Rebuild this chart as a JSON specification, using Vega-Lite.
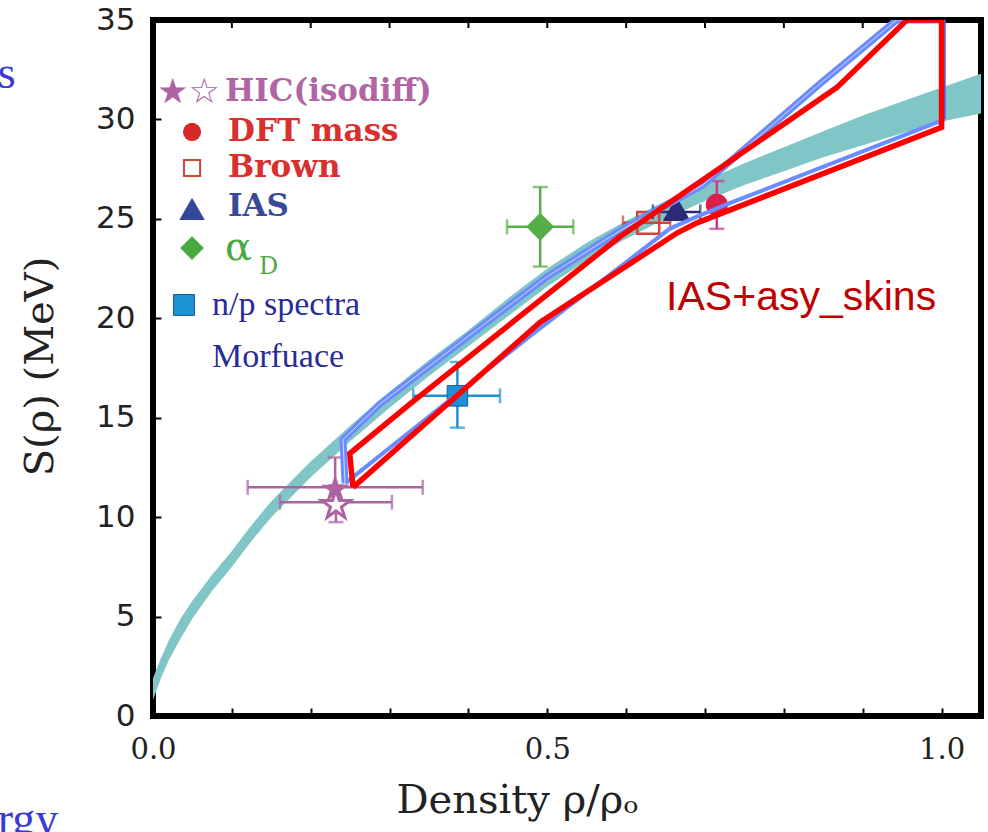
{
  "$schema": "https://vega.github.io/schema/vega-lite/v6.json",
  "width": 828,
  "height": 696,
  "autosize": {"type": "none"},
  "padding": {"left": 153, "top": 20, "right": 7, "bottom": 116},
  "background": "white",
  "config": {
    "view": {"stroke": "black", "strokeWidth": 6},
    "axis": {"grid": false, "domain": false, "tickColor": "black", "tickWidth": 2, "labelOverlap": false, "labelFlush": false, "labelBound": false},
    "axisY": {"titleFont": "DejaVu Serif", "titleFontSize": 40, "titleFontWeight": "normal", "titleColor": "#222"},
    "axisX": {"titleFont": "DejaVu Serif", "titleFontSize": 40, "titleFontWeight": "normal", "titleColor": "#222"}
  },
  "resolve": {"scale": {"color": "independent"}},
  "datasets": {
    "band": [
      {"x": 0.0, "y": 0.8, "y2": 1.9},
      {"x": 0.01, "y": 1.9, "y2": 2.9},
      {"x": 0.02, "y": 2.8, "y2": 3.8},
      {"x": 0.035, "y": 3.9, "y2": 4.9},
      {"x": 0.05, "y": 4.9, "y2": 5.8},
      {"x": 0.075, "y": 6.3, "y2": 7.1},
      {"x": 0.1, "y": 7.5, "y2": 8.3},
      {"x": 0.125, "y": 8.8, "y2": 9.6},
      {"x": 0.15, "y": 10.0, "y2": 10.8},
      {"x": 0.175, "y": 11.0, "y2": 11.8},
      {"x": 0.2, "y": 12.0, "y2": 12.8},
      {"x": 0.25, "y": 13.8, "y2": 14.6},
      {"x": 0.3, "y": 15.5, "y2": 16.3},
      {"x": 0.35, "y": 17.1, "y2": 17.9},
      {"x": 0.4, "y": 18.6, "y2": 19.4},
      {"x": 0.45, "y": 20.1, "y2": 21.0},
      {"x": 0.5, "y": 21.6, "y2": 22.5},
      {"x": 0.55, "y": 22.9, "y2": 23.8},
      {"x": 0.6, "y": 24.0, "y2": 24.9},
      {"x": 0.65, "y": 25.0, "y2": 25.9},
      {"x": 0.7, "y": 25.9, "y2": 26.9},
      {"x": 0.75, "y": 26.7, "y2": 27.8},
      {"x": 0.8, "y": 27.4, "y2": 28.6},
      {"x": 0.85, "y": 28.1, "y2": 29.4},
      {"x": 0.9, "y": 28.7, "y2": 30.2},
      {"x": 0.95, "y": 29.3, "y2": 30.9},
      {"x": 1.0, "y": 29.9, "y2": 31.6},
      {"x": 1.05, "y": 30.3, "y2": 32.3}
    ],
    "blue": [
      {"i": 0, "x": 0.2435, "y": 11.7},
      {"i": 1, "x": 0.241, "y": 13.9},
      {"i": 2, "x": 0.288, "y": 15.7},
      {"i": 3, "x": 0.4, "y": 19.1},
      {"i": 4, "x": 0.5, "y": 22.1},
      {"i": 5, "x": 0.592, "y": 24.4},
      {"i": 6, "x": 0.697, "y": 26.7},
      {"i": 7, "x": 0.846, "y": 31.8},
      {"i": 8, "x": 0.943, "y": 35.0},
      {"i": 9, "x": 1.004, "y": 35.0}
    ],
    "blueRight": [
      {"i": 0, "x": 1.004, "y": 35.0},
      {"i": 1, "x": 1.004, "y": 30.0}
    ],
    "blueLow": [
      {"i": 0, "x": 1.004, "y": 30.0},
      {"i": 1, "x": 0.732, "y": 25.8},
      {"i": 2, "x": 0.689, "y": 25.1},
      {"i": 3, "x": 0.655, "y": 24.5},
      {"i": 4, "x": 0.478, "y": 19.1},
      {"i": 5, "x": 0.2435, "y": 11.7}
    ],
    "red": [
      {"i": 0, "x": 0.2536, "y": 11.5},
      {"i": 1, "x": 0.2495, "y": 13.2},
      {"i": 2, "x": 0.326, "y": 15.7},
      {"i": 3, "x": 0.592, "y": 24.1},
      {"i": 4, "x": 0.697, "y": 26.95},
      {"i": 5, "x": 0.867, "y": 31.6},
      {"i": 6, "x": 0.956, "y": 35.0},
      {"i": 7, "x": 1.0, "y": 35.0},
      {"i": 8, "x": 1.0, "y": 29.6},
      {"i": 9, "x": 0.69, "y": 24.8},
      {"i": 10, "x": 0.665, "y": 24.3},
      {"i": 11, "x": 0.491, "y": 19.8},
      {"i": 12, "x": 0.2536, "y": 11.5}
    ],
    "topTicks": [
      {"x": 0.1, "y": 35}, {"x": 0.2, "y": 35}, {"x": 0.3, "y": 35}, {"x": 0.4, "y": 35}, {"x": 0.5, "y": 35},
      {"x": 0.6, "y": 35}, {"x": 0.7, "y": 35}, {"x": 0.8, "y": 35}, {"x": 0.9, "y": 35}, {"x": 1.0, "y": 35}
    ],
    "xerr": [
      {"s": "HIC", "y": 11.5, "x": 0.12, "x2": 0.342},
      {"s": "HIC", "y": 10.75, "x": 0.161, "x2": 0.303},
      {"s": "Brown", "y": 24.8, "x": 0.596, "x2": 0.656},
      {"s": "IAS", "y": 25.35, "x": 0.634, "x2": 0.694},
      {"s": "aD", "y": 24.6, "x": 0.449, "x2": 0.533},
      {"s": "np", "y": 16.1, "x": 0.33, "x2": 0.44}
    ],
    "yerr": [
      {"s": "HIC", "x": 0.231, "y": 10.3, "y2": 13.0},
      {"s": "HIC", "x": 0.232, "y": 9.75, "y2": 11.6},
      {"s": "DFT", "x": 0.715, "y": 24.5, "y2": 26.9},
      {"s": "aD", "x": 0.491, "y": 22.6, "y2": 26.6},
      {"s": "np", "x": 0.386, "y": 14.5, "y2": 17.8}
    ],
    "pts": [
      {"s": "HICfilled", "x": 0.231, "y": 11.4},
      {"s": "HICopen", "x": 0.232, "y": 10.6},
      {"s": "DFT", "x": 0.715, "y": 25.7},
      {"s": "Brown", "x": 0.628, "y": 24.8},
      {"s": "IAS", "x": 0.664, "y": 25.5},
      {"s": "aD", "x": 0.491, "y": 24.6},
      {"s": "np", "x": 0.386, "y": 16.1}
    ],
    "keys": [
      {"s": "DFT", "x": 0.0495, "y": 29.37},
      {"s": "Brown", "x": 0.0495, "y": 27.56},
      {"s": "IAS", "x": 0.0495, "y": 25.5},
      {"s": "aD", "x": 0.0495, "y": 23.53},
      {"s": "np", "x": 0.0393, "y": 20.67}
    ],
    "labels": [
      {"s": "HIC", "t": "HIC(isodiff)", "x": 0.0913, "y": 31.38},
      {"s": "DFT", "t": "DFT mass", "x": 0.0951, "y": 29.37},
      {"s": "Brown", "t": "Brown", "x": 0.0951, "y": 27.56},
      {"s": "IAS", "t": "IAS", "x": 0.0951, "y": 25.6}
    ]
  },
  "encoding": {
    "x": {
      "field": "x", "type": "quantitative",
      "scale": {"domain": [0, 1.05], "nice": false, "zero": false},
      "axis": {
        "values": [0, 0.1, 0.2, 0.3, 0.4, 0.5, 0.6, 0.7, 0.8, 0.9, 1.0],
        "labelExpr": "indexof([0, 0.5, 1], datum.value) >= 0 ? format(datum.value, '.1f') : ''",
        "labelFont": "DejaVu Serif", "labelFontSize": 29, "labelColor": "#222",
        "labelPadding": 27, "tickSize": -8,
        "title": "Density ρ/ρₒ", "titleFont": "DejaVu Serif", "titleFontSize": 40,
        "titleFontWeight": "normal", "titleColor": "#222",
        "titleBaseline": "alphabetic", "titleY": 96, "titleX": 364, "titleAlign": "center"
      }
    },
    "y": {
      "field": "y", "type": "quantitative",
      "scale": {"domain": [0, 35], "nice": false},
      "axis": {
        "values": [0, 5, 10, 15, 20, 25, 30, 35],
        "labelFont": "DejaVu Sans", "labelFontSize": 31, "labelColor": "#222",
        "labelPadding": 26, "tickSize": -8,
        "title": "S(ρ)  (MeV)", "titleFont": "DejaVu Serif", "titleFontSize": 40,
        "titleFontWeight": "normal", "titleColor": "#222",
        "titleX": -113, "titleY": 346, "titleBaseline": "middle", "titleAlign": "center"
      }
    }
  },
  "layer": [
    {
      "data": {"name": "band"},
      "mark": {"type": "area", "color": "#80c6c6", "clip": true},
      "encoding": {"y2": {"field": "y2"}}
    },
    {
      "data": {"name": "topTicks"},
      "mark": {"type": "tick", "orient": "vertical", "size": 16, "thickness": 2, "color": "black", "opacity": 1, "clip": true}
    },
    {
      "data": {"name": "xerr"},
      "mark": {"type": "errorbar", "ticks": {"size": 15}, "thickness": 2.5},
      "encoding": {
        "x2": {"field": "x2"},
        "color": {"field": "s", "type": "nominal", "legend": null,
          "scale": {"domain": ["HIC", "Brown", "IAS", "aD", "np"],
                    "range": ["#ad63a0", "#d0443c", "#2b2a78", "#56ae47", "#1a93d4"]}}
      }
    },
    {
      "data": {"name": "yerr"},
      "mark": {"type": "errorbar", "ticks": {"size": 15}, "thickness": 2.5},
      "encoding": {
        "y2": {"field": "y2"},
        "color": {"field": "s", "type": "nominal", "legend": null,
          "scale": {"domain": ["HIC", "DFT", "aD", "np"],
                    "range": ["#ad63a0", "#c8388f", "#56ae47", "#1a93d4"]}}
      }
    },
    {
      "data": {"name": "pts"},
      "transform": [{"filter": "datum.s == 'HICfilled'"}],
      "mark": {"type": "point", "filled": true, "color": "#ad63a0", "opacity": 1, "size": 900,
               "shape": "M0,-1L0.2245,-0.309L0.9511,-0.309L0.3633,0.118L0.5878,0.809L0,0.382L-0.5878,0.809L-0.3633,0.118L-0.9511,-0.309L-0.2245,-0.309Z"}
    },
    {
      "data": {"name": "pts"},
      "transform": [{"filter": "datum.s == 'HICopen'"}],
      "mark": {"type": "point", "filled": false, "fill": "white", "stroke": "#ad63a0", "strokeWidth": 3, "opacity": 1, "size": 900,
               "shape": "M0,-1L0.2245,-0.309L0.9511,-0.309L0.3633,0.118L0.5878,0.809L0,0.382L-0.5878,0.809L-0.3633,0.118L-0.9511,-0.309L-0.2245,-0.309Z"}
    },
    {
      "data": {"name": "pts"},
      "transform": [{"filter": "datum.s == 'DFT'"}],
      "mark": {"type": "point", "shape": "circle", "filled": true, "color": "#dc1e4a", "opacity": 1, "size": 490}
    },
    {
      "data": {"name": "pts"},
      "transform": [{"filter": "datum.s == 'Brown'"}],
      "mark": {"type": "point", "shape": "square", "filled": false, "stroke": "#d0443c", "strokeWidth": 2.5, "opacity": 1, "size": 480}
    },
    {
      "data": {"name": "pts"},
      "transform": [{"filter": "datum.s == 'IAS'"}],
      "mark": {"type": "point", "shape": "triangle-up", "filled": true, "color": "#2b2a78", "opacity": 1, "size": 780}
    },
    {
      "data": {"name": "pts"},
      "transform": [{"filter": "datum.s == 'aD'"}],
      "mark": {"type": "point", "shape": "diamond", "filled": true, "color": "#56ae47", "opacity": 1, "size": 780}
    },
    {
      "data": {"name": "pts"},
      "transform": [{"filter": "datum.s == 'np'"}],
      "mark": {"type": "point", "shape": "square", "filled": true, "fill": "#1a93d4", "stroke": "#1a5c8c", "strokeWidth": 1, "opacity": 1, "size": 420}
    },
    {
      "data": {"name": "blue"},
      "mark": {"type": "line", "stroke": "#6a8cff", "strokeWidth": 7, "strokeJoin": "miter", "clip": true},
      "encoding": {"order": {"field": "i"}}
    },
    {
      "data": {"name": "blueLow"},
      "mark": {"type": "line", "stroke": "#6a8cff", "strokeWidth": 4, "strokeJoin": "miter", "clip": true},
      "encoding": {"order": {"field": "i"}}
    },
    {
      "data": {"name": "blueRight"},
      "mark": {"type": "line", "stroke": "#3d6bff", "strokeWidth": 2, "clip": true},
      "encoding": {"order": {"field": "i"}}
    },
    {
      "data": {"name": "blue"},
      "mark": {"type": "line", "stroke": "white", "strokeWidth": 0.8, "opacity": 0.85, "clip": true},
      "encoding": {"order": {"field": "i"}}
    },
    {
      "data": {"name": "red"},
      "mark": {"type": "line", "stroke": "#ff0000", "strokeWidth": 5.5, "strokeJoin": "miter", "clip": true},
      "encoding": {"order": {"field": "i"}}
    },
    {
      "data": {"name": "keys"},
      "transform": [{"filter": "datum.s == 'DFT'"}],
      "mark": {"type": "point", "shape": "circle", "filled": true, "color": "#d62a2a", "opacity": 1, "size": 330}
    },
    {
      "data": {"name": "keys"},
      "transform": [{"filter": "datum.s == 'Brown'"}],
      "mark": {"type": "point", "shape": "square", "filled": false, "stroke": "#d0443c", "strokeWidth": 2, "opacity": 1, "size": 260}
    },
    {
      "data": {"name": "keys"},
      "transform": [{"filter": "datum.s == 'IAS'"}],
      "mark": {"type": "point", "shape": "triangle-up", "filled": true, "color": "#34479a", "opacity": 1, "size": 650}
    },
    {
      "data": {"name": "keys"},
      "transform": [{"filter": "datum.s == 'aD'"}],
      "mark": {"type": "point", "shape": "diamond", "filled": true, "color": "#4aa840", "opacity": 1, "size": 560}
    },
    {
      "data": {"name": "keys"},
      "transform": [{"filter": "datum.s == 'np'"}],
      "mark": {"type": "point", "shape": "square", "filled": true, "fill": "#1a93d4", "stroke": "#1a5c8c", "strokeWidth": 1, "opacity": 1, "size": 440}
    },
    {
      "data": {"values": [{"x": 0.0051, "y": 31.38, "t": "★☆"}]},
      "mark": {"type": "text", "align": "left", "baseline": "middle", "font": "DejaVu Sans", "fontSize": 35, "color": "#ad63a0"},
      "encoding": {"text": {"field": "t"}}
    },
    {
      "data": {"name": "labels"},
      "mark": {"type": "text", "align": "left", "baseline": "middle", "font": "DejaVu Serif", "fontSize": 31, "fontWeight": "bold"},
      "encoding": {
        "text": {"field": "t"},
        "color": {"field": "s", "type": "nominal", "legend": null,
          "scale": {"domain": ["HIC", "DFT", "Brown", "IAS"], "range": ["#b065a5", "#d9302e", "#d9302e", "#3a4a9a"]}}
      }
    },
    {
      "data": {"values": [{"x": 0.0913, "y": 23.53, "t": "α"}]},
      "mark": {"type": "text", "align": "left", "baseline": "middle", "font": "DejaVu Serif", "fontSize": 40, "color": "#4aa840"},
      "encoding": {"text": {"field": "t"}}
    },
    {
      "data": {"values": [{"x": 0.1345, "y": 22.58, "t": "D"}]},
      "mark": {"type": "text", "align": "left", "baseline": "middle", "font": "DejaVu Serif", "fontSize": 24, "color": "#4aa840"},
      "encoding": {"text": {"field": "t"}}
    },
    {
      "data": {"values": [
        {"x": 0.0748, "y": 20.67, "t": "n/p spectra"},
        {"x": 0.0748, "y": 18.05, "t": "Morfuace"}
      ]},
      "mark": {"type": "text", "align": "left", "baseline": "middle", "font": "Liberation Serif", "fontSize": 34, "color": "#2a2a9a"},
      "encoding": {"text": {"field": "t"}}
    },
    {
      "data": {"values": [{"x": 0.6507, "y": 21.02, "t": "IAS+asy_skins"}]},
      "mark": {"type": "text", "align": "left", "baseline": "middle", "font": "Liberation Sans", "fontSize": 41, "color": "#c00000"},
      "encoding": {"text": {"field": "t"}}
    },
    {
      "data": {"values": [
        {"x": -0.197, "y": 31.6, "t": "s"},
        {"x": -0.197, "y": -5.95, "t": "rgy"}
      ]},
      "mark": {"type": "text", "align": "left", "baseline": "alphabetic", "font": "Liberation Serif", "fontSize": 46, "color": "#3a3ad6"},
      "encoding": {"text": {"field": "t"}}
    }
  ]
}
